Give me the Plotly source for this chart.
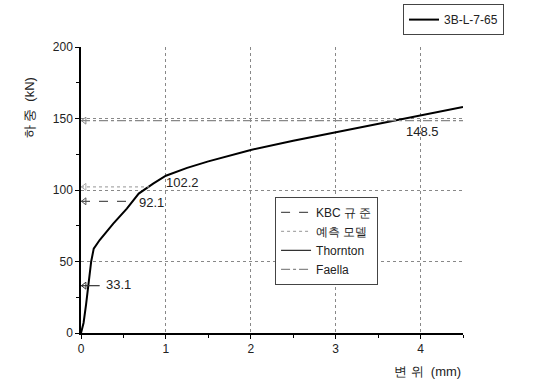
import plotly.graph_objects as go

# Load-displacement curve (3B-L-7-65)
disp = [0, 0.03, 0.06, 0.09, 0.12, 0.15, 0.22, 0.38, 0.54, 0.68, 0.85, 1.0, 1.25, 1.5, 2.0, 2.5, 3.0, 3.5, 4.0, 4.5]
load = [0, 7, 20, 35, 50, 59, 65, 76.5, 87, 97.5, 104.5, 110, 115.5, 120, 128, 134.5, 140.5, 146.5, 152, 158]

# Reference strengths
ref_names = ["KBC 규 준", "예측 모델", "Thornton", "Faella"]
ref_values = [92.1, 102.2, 33.1, 148.5]
ref_ends = [0.6, 0.8, 0.22, 4.5]
ref_colors = ["#555555", "#aaaaaa", "#333333", "#888888"]
ref_dash = ["dash", "dot", "solid", "dashdot"]
label_x = [0.66, 0.98, 0.27, 3.81]
label_y = [91, 105, 33.6, 141]

fig = go.Figure()
fig.add_trace(go.Scatter(x=disp, y=load, mode="lines", name="3B-L-7-65",
                         line=dict(color="black", width=2), legend="legend2"))
for n, v, e, c, d in zip(ref_names, ref_values, ref_ends, ref_colors, ref_dash):
    fig.add_trace(go.Scatter(x=[0, e], y=[v, v], mode="lines", name=n,
                             line=dict(color=c, width=1.2, dash=d)))
    fig.add_trace(go.Scatter(x=[0.04], y=[v], mode="markers", showlegend=False, hoverinfo="skip",
                             marker=dict(symbol="triangle-left-open", size=6, color=c, line=dict(width=1))))
for t, x, y in zip(ref_values, label_x, label_y):
    fig.add_annotation(x=x, y=y, text=f"{t}", showarrow=False, xanchor="left", yanchor="middle",
                       font=dict(size=13, color="#222"))

fig.add_annotation(xref="paper", yref="paper", x=-0.16, y=0.9, text="하 중  (kN)", textangle=-90,
                   showarrow=False, font=dict(size=13, color="#222222"))
fig.add_annotation(xref="paper", yref="paper", x=1.0, y=-0.1, text="변 위  (mm)", xanchor="right",
                   yanchor="top", showarrow=False, font=dict(size=13, color="#222222"))

fig.update_layout(
    width=542, height=379,
    margin=dict(l=81, r=79, t=47, b=46, autoexpand=False),
    paper_bgcolor="white", plot_bgcolor="white",
    font=dict(family="Liberation Sans, Arial, sans-serif", size=12, color="#222"),
    xaxis=dict(range=[0, 4.5], tickvals=[0, 1, 2, 3, 4], showline=True, linecolor="black",
               linewidth=1.5, ticks="outside", ticklen=4, tickcolor="black",
               minor=dict(tickvals=[0.5, 1.5, 2.5, 3.5, 4.5], ticks="outside", ticklen=3, tickcolor="black"),
               showgrid=True, gridcolor="#888", griddash="dot", gridwidth=1, zeroline=False),
    yaxis=dict(range=[0, 200], tickvals=[0, 50, 100, 150, 200], showline=True, linecolor="black",
               linewidth=1.5, ticks="outside", ticklen=4, tickcolor="black",
               minor=dict(tickvals=[25, 75, 125, 175], ticks="outside", ticklen=3, tickcolor="black"),
               showgrid=True, gridcolor="#888", griddash="dot", gridwidth=1, zeroline=False),
    legend=dict(x=0.508, y=0.476, xanchor="left", yanchor="top", bgcolor="white",
                bordercolor="#444", borderwidth=1, font=dict(size=12), tracegroupgap=0,
                itemwidth=30),
    legend2=dict(x=0.843, y=1.15, xanchor="left", yanchor="top", bgcolor="white",
                 bordercolor="#444", borderwidth=1, font=dict(size=12), itemwidth=30),
    showlegend=True,
)
fig.write_html("out.html", config={"displayModeBar": False},
               post_script="document.body.style.margin='0';")
